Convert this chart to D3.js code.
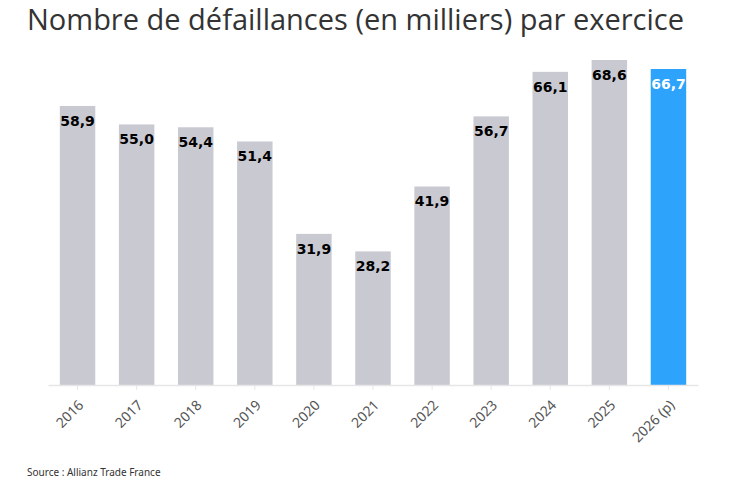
<!DOCTYPE html>
<html>
  <head>
    <meta charset="utf-8">
    <style>
      body {
        margin: 0;
        background: #fff;
      }
      .title {
        font-family: "Open Sans", sans-serif;
        font-size: 29px;
        fill: #333;
      }
      .source {
        font-family: "Noto Sans", sans-serif;
        font-size: 10px;
        fill: #333;
      }
      .value {
        font-family: "DejaVu Sans", sans-serif;
        font-weight: bold;
        font-size: 14px;
      }
      .x.axis text {
        font-family: "Noto Sans", sans-serif;
        font-size: 14px;
        fill: #555;
      }
    </style>
  </head>
  <body>
    <script src="https://d3js.org/d3.v7.min.js"></script>
    <script>
      // data
      var years = ["2016", "2017", "2018", "2019", "2020", "2021", "2022", "2023", "2024", "2025", "2026 (p)"];
      var values = [58.9, 55.0, 54.4, 51.4, 31.9, 28.2, 41.9, 56.7, 66.1, 68.6, 66.7];
      var forecast = [false, false, false, false, false, false, false, false, false, false, true];

      var W = 747, H = 486;
      var margin = {top: 60, right: 49, bottom: 101, left: 48},
        width = W - margin.left - margin.right,
        height = H - margin.top - margin.bottom;

      var root = d3.select("body").append("svg")
        .attr("width", W)
        .attr("height", H);

      root.append("text")
        .attr("class", "title")
        .attr("x", 27)
        .attr("y", 30)
        .text("Nombre de défaillances (en milliers) par exercice");

      root.append("text")
        .attr("class", "source")
        .attr("x", 27)
        .attr("y", 476)
        .text("Source : Allianz Trade France");

      var svg = root.append("g")
        .attr("transform", "translate(" + margin.left + "," + margin.top + ")");

      var xScale = d3.scaleBand()
        .domain(years)
        .range([0, width])
        .paddingInner(0.4)
        .paddingOuter(0.2);

      var yScale = d3.scaleLinear()
        .domain([0, 68.6])
        .range([height, 0]);

      var data = years.map(function(y, i) {
        return {year: y, value: values[i], forecast: forecast[i]};
      });

      svg.selectAll("rect.bar")
        .data(data)
        .enter().append("rect")
          .attr("class", "bar")
          .attr("x", d => xScale(d.year))
          .attr("y", d => yScale(d.value))
          .attr("width", xScale.bandwidth())
          .attr("height", d => height - yScale(d.value))
          .attr("fill", d => d.forecast ? "#2ea3fc" : "#c9c9d1");

      svg.selectAll("text.value")
        .data(data)
        .enter().append("text")
          .attr("class", "value")
          .attr("x", d => xScale(d.year) + xScale.bandwidth() / 2)
          .attr("y", d => yScale(d.value) + 20)
          .attr("text-anchor", "middle")
          .attr("fill", d => d.forecast ? "#fff" : "#000")
          .text(d => d3.format(".1f")(d.value).replace(".", ","));

      var xAxis = d3.axisBottom(xScale).tickSize(5).tickSizeOuter(0);

      var gx = svg.append("g")
        .attr("class", "x axis")
        .attr("transform", "translate(0," + height + ")")
        .call(xAxis);

      gx.select(".domain").attr("stroke", "#e6e6e6").attr("stroke-width", 1.5);
      gx.selectAll(".tick line").attr("stroke", "#e6e6e6");
      // rotated labels ending just under each tick
      gx.selectAll(".tick text")
        .attr("text-anchor", "end")
        .attr("x", 0)
        .attr("y", 0)
        .attr("dy", 0)
        .attr("transform", "translate(7,21) rotate(-45)");
    </script>
  </body>
</html>
